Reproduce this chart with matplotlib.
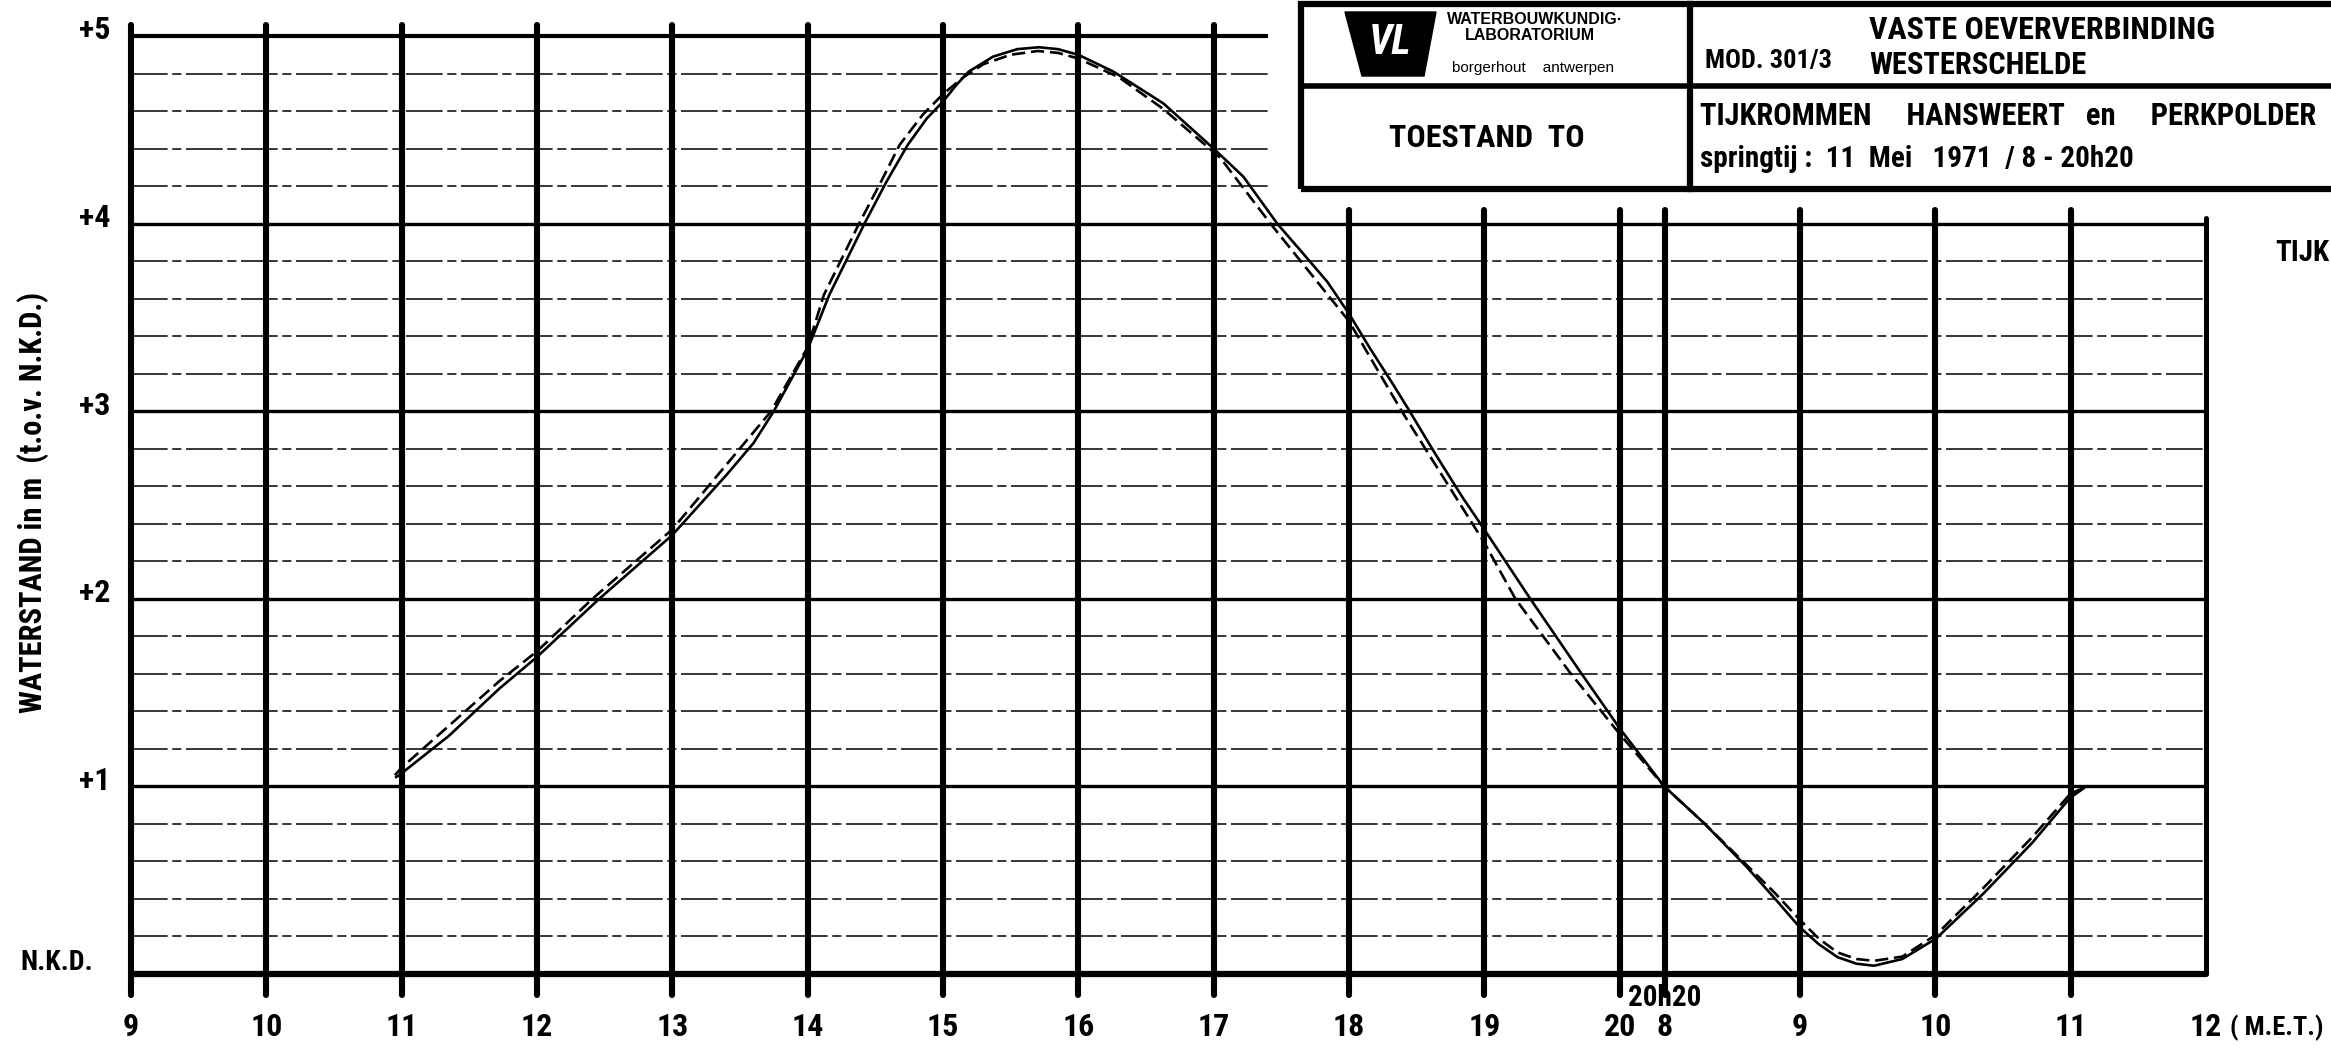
import matplotlib
matplotlib.use("Agg")
import matplotlib.pyplot as plt
from matplotlib.patches import Rectangle, Polygon

# ---------------- data ----------------
# continuous time axis in hours (20h20 == second scale "8")
time_solid = [10.96, 11.0, 11.35, 11.72, 12.0, 12.46, 13.0, 13.40, 13.60, 13.75, 14.0,
              14.16, 14.42, 14.58, 14.74, 14.88, 15.0, 15.1, 15.19, 15.37, 15.55, 15.71,
              15.85, 16.0, 16.26, 16.63, 17.0, 17.22, 17.47, 17.65, 17.84, 18.0, 18.16,
              18.32, 18.44, 18.64, 18.84, 19.0, 19.34, 19.71, 20.0, 20.33, 20.63, 20.94,
              21.15, 21.33, 21.47, 21.61, 21.75, 21.88, 22.09, 22.34, 22.69, 23.05,
              23.33, 23.43]
level_solid = [1.05, 1.07, 1.27, 1.52, 1.69, 2.00, 2.34, 2.66, 2.83, 3.00, 3.33,
               3.62, 4.00, 4.22, 4.42, 4.56, 4.65, 4.74, 4.81, 4.89, 4.93, 4.94,
               4.93, 4.90, 4.81, 4.64, 4.40, 4.25, 4.00, 3.85, 3.69, 3.52, 3.33,
               3.15, 3.01, 2.77, 2.54, 2.37, 2.00, 1.61, 1.31, 1.00, 0.80, 0.57,
               0.40, 0.25, 0.16, 0.09, 0.055, 0.044, 0.08, 0.19, 0.43, 0.70,
               0.94, 0.99]

time_dashed = [10.95, 11.0, 11.72, 12.0, 12.41, 13.0, 13.73, 14.0, 14.12, 14.38, 14.54,
               14.68, 14.85, 15.0, 15.15, 15.3, 15.5, 15.7, 15.85, 16.0, 16.3, 16.63,
               17.05, 17.42, 18.0, 18.39, 19.0, 19.23, 19.63, 20.0, 20.33, 20.63, 20.94,
               21.15, 21.33, 21.47, 21.61, 21.75, 21.88, 22.09, 22.34, 22.69, 23.05,
               23.33, 23.42]
level_dashed = [1.06, 1.10, 1.56, 1.72, 2.00, 2.37, 3.00, 3.34, 3.62, 4.00, 4.22,
                4.42, 4.58, 4.69, 4.78, 4.85, 4.90, 4.92, 4.91, 4.88, 4.78, 4.61,
                4.35, 4.00, 3.48, 3.00, 2.30, 2.00, 1.61, 1.28, 1.00, 0.80, 0.58,
                0.43, 0.29, 0.19, 0.115, 0.08, 0.07, 0.093, 0.21, 0.46, 0.73,
                0.96, 0.99]

# tick labels
xtick_pos = [9, 10, 11, 12, 13, 14, 15, 16, 17, 18, 19, 20, 20.3333, 21.3333, 22.3333, 23.3333, 24.3333]
xtick_lab = ["9", "10", "11", "12", "13", "14", "15", "16", "17", "18", "19", "20", "8", "9", "10", "11", "12"]
ytick_pos = [1, 2, 3, 4, 5]
ytick_lab = ["+1", "+2", "+3", "+4", "+5"]

FONT = ["Roboto Condensed", "Liberation Sans Narrow", "Roboto", "DejaVu Sans"]
WIDE = ["Liberation Sans", "DejaVu Sans"]

W, H = 2331, 1048
fig = plt.figure(figsize=(W / 100, H / 100), dpi=100)
fig.patch.set_facecolor("white")

x0, x1 = 131, 2206
y0, y1 = 974, 36
ax = fig.add_axes([x0 / W, 1 - y0 / H, (x1 - x0) / W, (y0 - y1) / H])
XMIN, XMAX = 9, 24.3333
ax.set_xlim(XMIN, XMAX)
ax.set_ylim(0, 5)
ax.axis("off")

K = "black"
XCUT = 17.4  # where the upper part of the grid stops (title block)

# thin 0.2 m lines
for k in range(1, 25):
    if k % 5 == 0:
        continue
    y = k * 0.2
    xe = XMAX if y < 4 else XCUT
    ax.plot([XMIN, xe], [y, y], color=K, lw=1.1, ls=(0, (24, 3, 6, 3)), clip_on=False)
# thick metre lines
for y in [1, 2, 3, 4]:
    ax.plot([XMIN, XMAX], [y, y], color=K, lw=2.4, clip_on=False)
ax.plot([XMIN, XCUT], [5, 5], color=K, lw=3.0, clip_on=False, solid_capstyle="butt")
ax.plot([XMIN, XMAX], [0, 0], color=K, lw=4.5, clip_on=False, solid_capstyle="butt")

# vertical hour lines
for x in xtick_pos[:-1]:
    top = 5.06 if x <= 17 else 4.07
    ax.plot([x, x], [-0.11, top], color=K, lw=4.4, clip_on=False, solid_capstyle="round")
ax.plot([XMAX, XMAX], [0, 4.03], color=K, lw=3.6, clip_on=False, solid_capstyle="round")

# tide curves
ax.plot(time_solid, level_solid, color=K, lw=1.9, clip_on=False)
ax.plot(time_dashed, level_dashed, color=K, lw=1.9, ls=(0, (5, 2.2)), clip_on=False)

# tick labels
for x, lab in zip(xtick_pos, xtick_lab):
    ax.text(x, -0.285, lab, ha="center", va="center", fontsize=23, fontweight="bold",
            family=FONT, clip_on=False)
ax.text(20.3333, -0.128, "20h20", ha="center", va="center", fontsize=21, fontweight="bold",
        family=FONT, clip_on=False)
ax.text(24.51, -0.285, "( M.E.T.)", ha="left", va="center", fontsize=19, fontweight="bold",
        family=FONT, clip_on=False)
for y, lab in zip(ytick_pos, ytick_lab):
    ax.text(8.85, y + 0.03, lab, ha="right", va="center", fontsize=23, fontweight="bold",
            family=FONT, clip_on=False)
ax.text(8.72, 0.06, "N.K.D.", ha="right", va="center", fontsize=20, fontweight="bold",
        family=FONT, clip_on=False)
fig.text(33 / W, 1 - 502 / H, "WATERSTAND in m  (t.o.v. N.K.D.)", rotation=90,
         ha="center", va="center", fontsize=22, fontweight="bold", family=FONT)

# ---------------- title block ----------------
def fx(px):
    return px / W


def fy(py):
    return 1 - py / H


bx0, bx1, by0, by1 = 1301, 2345, 4, 189
fig.add_artist(Rectangle((fx(bx0), fy(by1)), fx(bx1) - fx(bx0), fy(by0) - fy(by1),
                         transform=fig.transFigure, fill=False, lw=4.5, ec=K))
fig.add_artist(plt.Line2D([fx(bx0), fx(bx1)], [fy(86), fy(86)], transform=fig.transFigure,
                          color=K, lw=4.0))
fig.add_artist(plt.Line2D([fx(1690), fx(1690)], [fy(by0), fy(by1)], transform=fig.transFigure,
                          color=K, lw=4.5))

# logo
logo = Polygon([(fx(1345), fy(12)), (fx(1436), fy(12)), (fx(1424), fy(76)), (fx(1362), fy(76))],
               closed=True, transform=fig.transFigure, fc=K, ec=K)
fig.add_artist(logo)
fig.text(fx(1390), fy(42), "VL", ha="center", va="center", fontsize=30, fontweight="bold",
         color="white", family=FONT, style="italic")
fig.text(fx(1535), fy(19), "WATERBOUWKUNDIG·", ha="center", va="center", fontsize=11.5,
         fontweight="bold", family=WIDE)
fig.text(fx(1530), fy(36), "LABORATORIUM", ha="center", va="center", fontsize=11.5,
         fontweight="bold", family=WIDE)
fig.text(fx(1533), fy(68), "borgerhout    antwerpen", ha="center", va="center", fontsize=11,
         family=WIDE)
fig.text(fx(1487), fy(138), "TOESTAND  TO", ha="center", va="center", fontsize=23,
         fontweight="bold", family=FONT)
fig.text(fx(1705), fy(61), "MOD. 301/3", ha="left", va="center", fontsize=19,
         fontweight="bold", family=FONT)
fig.text(fx(1869), fy(30), "VASTE OEVERVERBINDING", ha="left", va="center", fontsize=23,
         fontweight="bold", family=FONT)
fig.text(fx(1869), fy(65), "WESTERSCHELDE", ha="left", va="center", fontsize=22,
         fontweight="bold", family=FONT)
fig.text(fx(1700), fy(116), "TIJKROMMEN     HANSWEERT   en     PERKPOLDER", ha="left", va="center",
         fontsize=22, fontweight="bold", family=FONT)
fig.text(fx(1700), fy(159), "springtij :  11  Mei   1971  / 8 - 20h20", ha="left", va="center",
         fontsize=21, fontweight="bold", family=FONT)
fig.text(fx(2275), fy(253), "TIJK", ha="left", va="center", fontsize=21, fontweight="bold",
         family=FONT)

fig.savefig("out.png", dpi=100, facecolor="white")
